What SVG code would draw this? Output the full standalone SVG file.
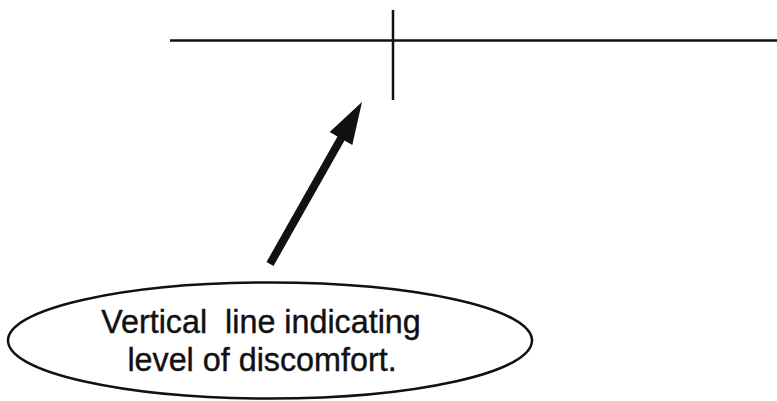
<svg xmlns="http://www.w3.org/2000/svg" width="777" height="401" viewBox="0 0 777 401">
  <style>
    .ln { stroke: #111; stroke-width: 2.5; fill: none; }
    .lbl { font-family: "Liberation Sans", Arial, sans-serif; font-size: 32.3px; fill: #111; stroke: #111; stroke-width: 0.4; text-anchor: middle; white-space: pre; }
  </style>
  <rect width="777" height="401" fill="#ffffff"/>
  <g id="scale">
    <line class="ln" x1="170" y1="40.5" x2="777" y2="40.5"/>
    <line class="ln" x1="393" y1="10" x2="393" y2="100"/>
  </g>
  <g id="label">
    <ellipse class="ln" cx="270" cy="340.5" rx="262" ry="58"/>
    <text class="lbl" x="261" y="333" xml:space="preserve">Vertical  line indicating</text>
    <text class="lbl" x="262" y="371">level of discomfort.</text>
  </g>
  <g id="connectors">
    <polygon fill="#111" points="266.5,262 273.5,266 344.5,140.4 352.3,144.9 362,102 329.7,131.9 337.5,136.4"/>
  </g>
</svg>
